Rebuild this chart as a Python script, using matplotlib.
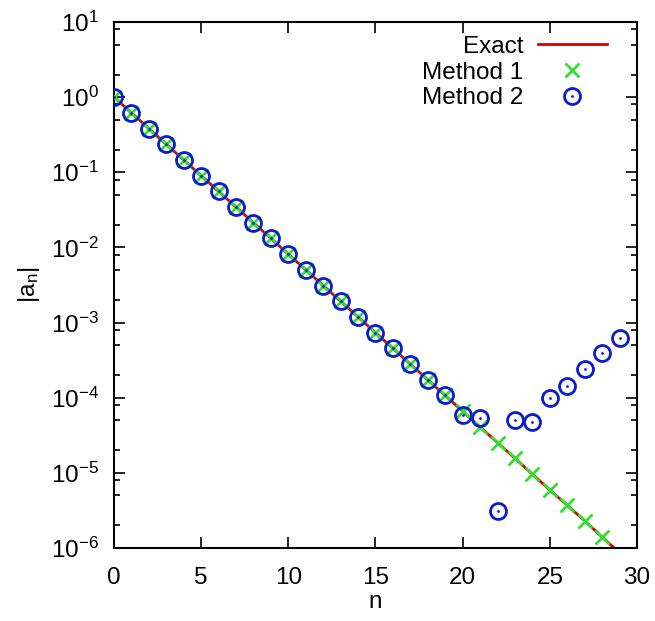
import matplotlib
matplotlib.use("Agg")
import matplotlib.pyplot as plt
from matplotlib.ticker import LogLocator, MultipleLocator
from matplotlib.legend_handler import HandlerTuple

plt.rcParams['font.family'] = ['Liberation Sans', 'DejaVu Sans']
plt.rcParams['mathtext.fontset'] = 'custom'
plt.rcParams['mathtext.rm'] = 'Liberation Sans'
plt.rcParams['mathtext.it'] = 'Liberation Sans:italic'
plt.rcParams['font.size'] = 17.5

# valeurs
n_exact = list(range(0, 30))
exact = [1.0, 0.618, 0.382, 0.236, 0.146, 0.0902, 0.0557, 0.0344, 0.0213, 0.0132,
         0.00813, 0.00503, 0.00311, 0.00192, 0.00119, 7.33e-4, 4.53e-4, 2.80e-4,
         1.73e-4, 1.07e-4, 6.6e-5, 4.08e-5, 2.52e-5, 1.56e-5, 9.6e-6, 5.9e-6,
         3.7e-6, 2.3e-6, 1.4e-6, 8.6e-7]

n_m1 = list(range(0, 29))
method1 = [1.0, 0.618, 0.382, 0.236, 0.146, 0.0902, 0.0557, 0.0344, 0.0213, 0.0132,
           0.00813, 0.00503, 0.00311, 0.00192, 0.00119, 7.33e-4, 4.53e-4, 2.80e-4,
           1.73e-4, 1.07e-4, 6.6e-5, 4.08e-5, 2.52e-5, 1.56e-5, 9.6e-6, 5.9e-6,
           3.7e-6, 2.3e-6, 1.4e-6]

n_m2 = list(range(0, 30))
method2 = [1.0, 0.618, 0.382, 0.236, 0.146, 0.0902, 0.0557, 0.0344, 0.0213, 0.0132,
           0.00813, 0.00503, 0.00311, 0.00192, 0.00119, 7.33e-4, 4.53e-4, 2.80e-4,
           1.73e-4, 1.07e-4, 5.8e-5, 5.4e-5, 3.1e-6, 5.1e-5, 4.7e-5, 9.8e-5,
           1.45e-4, 2.4e-4, 3.9e-4, 6.3e-4]

fig = plt.figure(figsize=(6.55, 6.21), dpi=100)
ax = fig.add_axes([0.174, 0.1176, 0.7985, 0.847])

line, = ax.plot(n_exact, exact, color='#dd0000', lw=2, zorder=2)
crosses, = ax.plot(n_m1, method1, ls='none', marker='x', ms=10, mew=2,
                   color='#33dd33', zorder=3)
circles, = ax.plot(n_m2, method2, ls='none', marker='o', ms=11.5, mew=2,
                   mfc='none', mec='#0a1ccc', zorder=4)
dots, = ax.plot(n_m2, method2, ls='none', marker='o', ms=2, mew=0,
                color='#0a1ccc', zorder=5)

ax.set_yscale('log')
ax.set_xlim(0, 30)
ax.set_ylim(1e-6, 1e1)
ax.xaxis.set_major_locator(MultipleLocator(5))
ax.yaxis.set_major_locator(LogLocator(base=10, numticks=20))
ax.yaxis.set_minor_locator(LogLocator(base=10, subs=[2, 5, 8], numticks=20))
ax.tick_params(which='both', direction='in', top=True, right=True, width=1.2)
ax.tick_params(which='major', length=8)
ax.tick_params(which='minor', length=4)
ax.tick_params(axis='x', pad=14)
ax.tick_params(axis='y', pad=11)
for s in ax.spines.values():
    s.set_linewidth(1.5)

ax.set_xlabel('n', labelpad=1)
ax.set_ylabel(r'$\mathregular{|a_n|}$', labelpad=6)

ax.legend([line, crosses, (circles, dots)], ['Exact', 'Method 1', 'Method 2'],
          handler_map={tuple: HandlerTuple(ndivide=1)},
          loc='upper right', bbox_to_anchor=(1 - 30 / 523, 1 - 14 / 526),
          markerfirst=False, frameon=False, borderpad=0, borderaxespad=0,
          handlelength=2.85, labelspacing=0.15, handletextpad=0.6,
          fontsize=17.5)

fig.savefig('out.png', dpi=100)
